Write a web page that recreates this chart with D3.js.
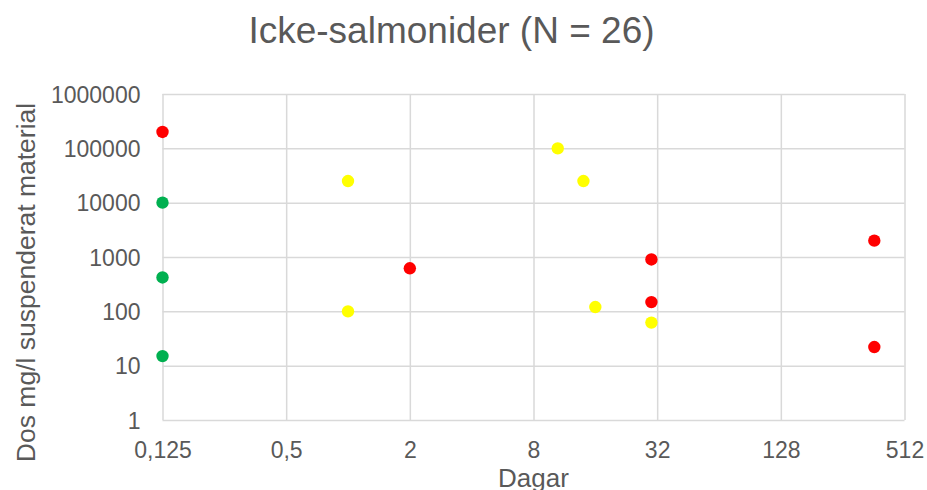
<!DOCTYPE html>
<html>
<head>
<meta charset="utf-8">
<script src="https://cdn.jsdelivr.net/npm/d3@7"></script>
<style>
  html, body { margin: 0; padding: 0; background: #fff; }
  svg { display: block; font-family: "Liberation Sans", Arial, sans-serif; }
</style>
</head>
<body>
<svg id="chart" width="927" height="490"></svg>
<script>
const title = "Icke-salmonider (N = 26)";
const xTitle = "Dagar";
const yTitle = "Dos mg/l suspenderat material";

const xTicks = [0.125, 0.5, 2, 8, 32, 128, 512];
const xTickLabels = ["0,125", "0,5", "2", "8", "32", "128", "512"];
const yTicks = [1, 10, 100, 1000, 10000, 100000, 1000000];
const yTickLabels = ["1", "10", "100", "1000", "10000", "100000", "1000000"];

// Series: red
const redX = [0.125, 2, 30, 30, 365, 365];
const redY = [200000, 620, 900, 148, 2000, 22];
// Series: green
const greenX = [0.125, 0.125, 0.125];
const greenY = [10000, 420, 15];
// Series: yellow
const yellowX = [1, 1, 10.5, 14, 16, 30];
const yellowY = [25000, 100, 100000, 25000, 120, 62];

const seriesColors = { red: "#FF0000", green: "#00B050", yellow: "#FFFF00" };

(function () {
const svg = d3.select("#chart");
const pLeft = 162.5, pRight = 904.5, pTop = 94, pBottom = 420;

const x = d3.scaleLog().base(2).domain([0.125, 512]).range([pLeft, pRight]);
const y = d3.scaleLog().base(10).domain([1, 1000000]).range([pBottom, pTop]);

const gridColor = "#D9D9D9";
const textColor = "#595959";

// Horizontal gridlines via axis
const yAxis = d3.axisLeft(y).tickValues(yTicks)
  .tickSize(-(pRight - pLeft)).tickPadding(22)
  .tickFormat((d, i) => yTickLabels[i]);
const gy = svg.append("g").attr("transform", `translate(${pLeft},0)`).call(yAxis);
gy.select(".domain").remove();
gy.selectAll(".tick line").attr("stroke", gridColor).attr("stroke-width", 1.5);
gy.selectAll(".tick text").attr("fill", textColor).style("font-size", "23px")
  .attr("dy", "0.36em");

// Vertical gridlines via axis
const xAxis = d3.axisBottom(x).tickValues(xTicks)
  .tickSize(-(pBottom - pTop)).tickPadding(22)
  .tickFormat((d, i) => xTickLabels[i]);
const gx = svg.append("g").attr("transform", `translate(0,${pBottom})`).call(xAxis);
gx.select(".domain").remove();
gx.selectAll(".tick line").attr("stroke", gridColor).attr("stroke-width", 1.5);
gx.selectAll(".tick text").attr("fill", textColor).style("font-size", "23px")
  .attr("dy", "0.71em");

// Points
const series = [
  { name: "red", xs: redX, ys: redY },
  { name: "green", xs: greenX, ys: greenY },
  { name: "yellow", xs: yellowX, ys: yellowY }
];
series.forEach(s => {
  svg.append("g").selectAll("circle")
    .data(s.xs.map((v, i) => [v, s.ys[i]]))
    .join("circle")
    .attr("cx", d => x(d[0]))
    .attr("cy", d => y(d[1]))
    .attr("r", 6.2)
    .attr("fill", seriesColors[s.name]);
});

// Title
svg.append("text").attr("x", 451.5).attr("y", 43)
  .attr("text-anchor", "middle").attr("fill", textColor)
  .style("font-size", "37px").text(title);

// X title
svg.append("text").attr("x", 533.5).attr("y", 486.5)
  .attr("text-anchor", "middle").attr("fill", textColor)
  .style("font-size", "26px").text(xTitle);

// Y title
svg.append("text").attr("transform", "translate(35,282.5) rotate(-90)")
  .attr("text-anchor", "middle").attr("fill", textColor)
  .style("font-size", "26.5px").text(yTitle);
})();
</script>
</body>
</html>
